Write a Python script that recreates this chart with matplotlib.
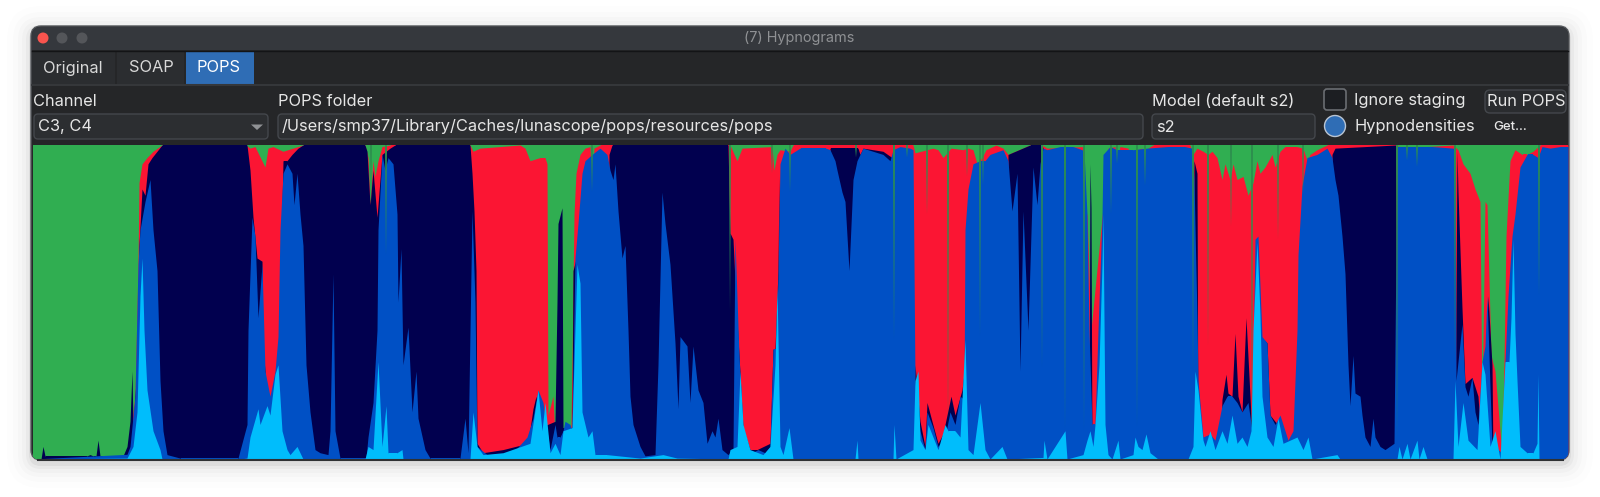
import matplotlib
matplotlib.use("Agg")
import matplotlib.pyplot as plt
from matplotlib.patches import FancyBboxPatch, Rectangle, Circle, Polygon

plt.rcParams['font.family'] = ['Inter', 'DejaVu Sans']

# hypnodensity, cumulative % at the top of each stage
red_x = [0, 5, 10, 94, 100, 102, 105, 106, 109, 114, 120, 129, 213, 217, 222, 232, 235, 240, 250, 260, 270, 297, 299, 302,
         332, 335, 337, 340, 342, 345, 349, 357, 437, 440, 447, 487, 492, 497, 507, 512, 514, 515, 520, 522, 524, 530, 533,
         534, 536, 538, 539, 541, 543, 547, 552, 557, 559, 561, 567, 697, 704, 709, 739, 741, 744, 747, 757, 760, 880, 882,
         894, 900, 905, 910, 918, 930, 935, 940, 944, 949, 953, 963, 970, 975, 997, 1009, 1014, 1051, 1052, 1054, 1058, 1070,
         1072, 1075, 1082, 1084, 1087, 1095, 1100, 1104, 1109, 1113, 1115, 1120, 1157, 1160, 1164, 1170, 1175, 1179, 1184,
         1189, 1192, 1197, 1200, 1204, 1210, 1215, 1220, 1224, 1227, 1232, 1239, 1242, 1247, 1252, 1264, 1270, 1274, 1277,
         1284, 1294, 1364, 1367, 1374, 1377, 1384, 1387, 1390, 1394, 1420, 1425, 1430, 1437, 1442, 1447, 1449, 1452, 1454,
         1458, 1462, 1467, 1469, 1471, 1473, 1477, 1482, 1489, 1494, 1500, 1507, 1535]
red_y = [0, 0, 0, 1, 15, 20, 62, 88, 94, 96, 98, 100, 100, 99, 99.5, 93, 99, 99.5, 98, 99, 100, 100, 99, 100,
         100, 96, 81, 95, 90, 95, 99.5, 100, 100, 98, 99, 100, 99, 95, 96, 96, 94, 14, 20, 7, 6, 9, 11,
         11, 6, 11, 30, 78, 91, 97, 99, 99.5, 85, 99, 100, 100, 95, 99, 99.5, 92, 97, 98.5, 98, 100, 100, 97.5,
         98.5, 99, 98.5, 96, 99, 98.5, 99, 98.5, 94, 96, 98.5, 100, 99, 97, 100, 100, 99, 99.5, 78, 78, 41, 80,
         95, 99, 99.5, 94, 99.5, 99, 93, 98.5, 99, 95, 99, 100, 100, 97, 99, 98, 97, 98, 96,
         89, 94, 89, 94, 89, 90, 84, 88, 95, 91, 93, 97, 93, 98, 99.5, 99.5, 99, 95, 97,
         98.5, 100, 100, 99, 95, 99.5, 93, 99.5, 96, 99.5, 100, 98.5, 94, 91, 86, 82, 14, 82, 81,
         33, 28, 9, 1.4, 31, 71, 95, 98.5, 97, 97, 98, 100, 100]

navy_x = [0, 8, 10, 12, 54, 57, 60, 63, 65, 67, 90, 94, 97, 99, 100, 102, 104, 106, 109, 112, 115, 119, 124, 129, 214, 217,
          220, 224, 229, 230, 232, 234, 247, 249, 250, 254, 259, 265, 270, 332, 334, 337, 340, 344, 349, 357, 362, 437, 439,
          441, 443, 444, 450, 470, 495, 500, 503, 507, 522, 524, 525, 529, 530, 539, 540, 544, 547, 549, 575, 576, 579, 695,
          697, 700, 703, 706, 710, 717, 724, 737, 740, 742, 745, 746, 747, 795, 797, 825, 827, 830, 850, 859, 860, 880, 882,
          887, 892, 894, 899, 905, 910, 918, 922, 929, 932, 934, 974, 975, 997, 1009, 1012, 1014, 1056, 1057, 1058, 1059,
          1160, 1161, 1164, 1165, 1187, 1189, 1193, 1195, 1199, 1202, 1205, 1209, 1213, 1217, 1220, 1230, 1231, 1234, 1237,
          1242, 1250, 1254, 1297, 1299, 1302, 1363, 1364, 1422, 1424, 1425, 1429, 1432, 1439, 1445, 1449, 1454, 1455, 1459,
          1460, 1535]
navy_y = [0, 0, 4, 1, 1, 1.4, 1, 1, 6, 1, 1, 4, 12, 28, 10, 20, 30, 68, 86, 84, 94, 96, 98, 100, 100, 92,
          77, 64, 63, 36, 28, 0, 0, 80, 95, 95, 97, 99, 100, 100, 98, 81, 92, 77, 97, 99, 100, 100, 91,
          79, 60, 5, 2, 3, 5, 16, 20, 10, 12, 50, 75, 80, 10, 10, 60, 65, 60, 0, 0, 97, 100, 100,
          72, 70, 50, 33, 10, 3, 3, 5, 35, 35, 60, 90, 0, 0, 99, 99, 97, 99, 98, 96, 0, 0, 30,
          12, 4, 18, 12, 5, 8, 20, 14, 22, 30, 0, 0, 97, 100, 100, 97, 0, 0, 94, 80, 0,
          0, 95, 91, 0, 0, 19, 27, 21, 20, 40, 20, 15, 45, 20, 0, 0, 38, 37, 14,
          12, 9, 0, 0, 97, 99, 100, 0, 0, 98, 85, 48, 24, 26, 20, 0, 42, 52, 30,
          0, 0]

blue_x = [0, 94, 97, 102, 105, 107, 112, 117, 120, 124, 127, 130, 134, 147, 205, 214, 215, 219, 222, 225, 229, 232, 237, 242,
          245, 247, 250, 254, 259, 261, 264, 267, 270, 273, 277, 282, 287, 295, 297, 300, 302, 307, 333, 335, 340, 344, 345,
          349, 352, 355, 360, 364, 365, 368, 370, 375, 379, 383, 385, 392, 397, 427, 432, 435, 439, 442, 444, 454, 467, 480,
          494, 500, 505, 510, 514, 517, 522, 524, 527, 530, 532, 537, 539, 542, 545, 549, 552, 559, 567, 574, 577, 580, 582,
          585, 589, 592, 595, 597, 600, 607, 612, 622, 625, 629, 632, 637, 642, 645, 647, 654, 657, 660, 665, 670, 674, 679,
          682, 685, 689, 695, 700, 702, 706, 710, 715, 719, 725, 732, 737, 740, 743, 745, 747, 752, 757, 767, 780, 793, 797,
          802, 804, 809, 812, 816, 820, 824, 830, 840, 850, 857, 860, 867, 877, 880, 882, 887, 892, 894, 900, 905, 912, 917,
          922, 927, 931, 932, 935, 940, 947, 952, 957, 970, 975, 979, 984, 987, 990, 995, 1000, 1004, 1007, 1010, 1014, 1027,
          1040, 1049, 1051, 1054, 1056, 1059, 1062, 1065, 1069, 1070, 1077, 1084, 1100, 1114, 1134, 1152, 1159, 1161, 1164,
          1165, 1170, 1177, 1182, 1189, 1194, 1199, 1204, 1209, 1215, 1219, 1222, 1225, 1229, 1234, 1237, 1242, 1247, 1252,
          1255, 1260, 1264, 1265, 1269, 1274, 1284, 1294, 1299, 1302, 1305, 1309, 1312, 1315, 1317, 1320, 1322, 1327, 1329,
          1332, 1337, 1340, 1342, 1347, 1352, 1361, 1364, 1382, 1400, 1420, 1422, 1423, 1429, 1432, 1435, 1439, 1442, 1445,
          1449, 1452, 1454, 1459, 1462, 1465, 1469, 1472, 1475, 1479, 1482, 1487, 1494, 1500, 1505, 1509, 1517, 1527, 1535]
blue_y = [0, 1.5, 4, 20, 62, 73, 82, 89, 73, 60, 25, 9, 1.4, 0.3, 0.3, 11, 41, 77, 71, 45, 62, 28, 20, 28,
          39, 73, 91, 94, 91, 81, 91, 78, 68, 30, 15, 3, 2, 1.4, 9, 59, 9, 0.3, 0.3, 7, 18, 41, 73,
          97, 92, 96, 94, 78, 50, 67, 30, 42, 15, 28, 13, 3, 0.3, 0.3, 13, 2, 79, 50, 4, 1.4, 1, 2,
          7, 13, 22, 18, 9, 3, 11, 7, 7, 9, 12, 11, 9, 64, 75, 91, 95, 97, 99, 97, 92, 89, 94,
          79, 64, 68, 41, 20, 11, 4, 1, 1.4, 30, 85, 75, 62, 37, 16, 39, 36, 18, 36, 22, 18, 5, 9,
          7, 13, 3, 1.4, 3, 70, 33, 9, 3, 2, 3, 2, 4, 35, 35, 59, 94, 99, 97, 99, 99, 99, 98.5,
          95, 92, 85, 82, 60, 89, 95, 99, 98, 97, 95, 98.5, 99.5, 99, 98.5, 25, 9, 3, 15, 10, 4, 7, 15,
          11, 20, 19, 73, 86, 94, 95, 95, 97, 98.5, 95, 79, 91, 28, 79, 41, 93, 81, 94, 99, 98.5, 99.5,
          99.5, 98.5, 98, 78, 41, 11, 11, 41, 77, 97, 99.5, 98.5, 98.5, 99, 99.5, 99.5, 99, 89, 45,
          25, 7, 8, 6, 17, 20, 20, 18, 15, 18, 9, 70, 71, 39, 37, 14, 11, 14, 9,
          6, 9, 41, 65, 87, 96, 97, 99, 96, 89, 84, 71, 59, 30, 17, 33, 21, 20, 14,
          7, 4, 13, 7, 4, 3, 5, 99.5, 99.5, 99.5, 99, 98.5, 25, 43, 23, 20, 26, 15, 11,
          31, 36, 52, 4, 7, 3, 2, 31, 52, 71, 78, 93, 97, 97, 96, 99.5, 99, 99.5, 99.5]

cyan_x = [0, 94, 100, 104, 107, 109, 111, 114, 120, 127, 129, 207, 214, 217, 225, 227, 234, 237, 242, 245, 249, 254, 257, 264,
          270, 332, 335, 340, 345, 349, 353, 355, 364, 369, 370, 437, 440, 444, 450, 470, 497, 505, 509, 512, 517, 522, 527,
          530, 539, 544, 547, 549, 555, 559, 562, 574, 607, 630, 644, 695, 697, 704, 707, 710, 717, 730, 737, 742, 744, 747,
          750, 756, 760, 822, 824, 825, 860, 861, 863, 880, 882, 885, 887, 892, 895, 900, 905, 912, 915, 922, 927, 932, 935,
          940, 947, 952, 957, 969, 974, 1010, 1011, 1014, 1032, 1034, 1050, 1054, 1057, 1060, 1062, 1066, 1069, 1070, 1072,
          1075, 1079, 1085, 1087, 1100, 1102, 1105, 1109, 1113, 1117, 1125, 1155, 1160, 1162, 1165, 1170, 1172, 1177, 1182,
          1189, 1194, 1199, 1204, 1209, 1214, 1218, 1220, 1224, 1227, 1229, 1234, 1240, 1245, 1250, 1257, 1264, 1270, 1275,
          1279, 1304, 1307, 1364, 1366, 1369, 1374, 1377, 1384, 1386, 1390, 1394, 1420, 1422, 1425, 1430, 1435, 1444, 1449,
          1452, 1457, 1462, 1467, 1472, 1476, 1478, 1480, 1482, 1484, 1487, 1494, 1500, 1504, 1505, 1506, 1535]
cyan_y = [0, 0.3, 4, 15, 52, 64, 41, 22, 9, 3, 0, 0, 0.3, 7, 16, 11, 17, 14, 27, 30, 9, 3, 1.4, 4,
          0, 0, 4, 3, 31, 4, 17, 2, 2, 3, 0, 0, 15, 4, 1.4, 2, 5, 22, 9, 18, 2, 5, 1.4,
          9, 10, 62, 56, 15, 7, 9, 1.4, 1.4, 0.3, 1.4, 0.3, 0, 3, 4, 28, 11, 3, 1.4, 4, 30, 55, 4,
          1.4, 10, 0, 0, 6, 0, 0, 11, 0, 3, 25, 28, 6, 3, 11, 7, 3, 11, 9, 9, 7, 38, 3,
          1.4, 18, 3, 0, 4, 0, 0.5, 6, 0, 9, 0, 1.4, 6, 9, 4, 11, 30, 62, 78, 11,
          1.4, 0, 6, 0, 1.4, 7, 4, 3, 8, 2, 0, 0, 4, 28, 22, 6, 4, 9, 3,
          9, 5, 14, 5, 7, 4, 9, 41, 69, 46, 20, 7, 4, 13, 5, 6, 7, 3, 7,
          0, 1.4, 0, 0, 4, 0, 5, 0, 6, 0, 4, 0, 0, 25, 4, 18, 6, 3, 31,
          27, 4, 9, 0, 31, 31, 45, 70, 40, 25, 4, 2, 2, 5, 27, 0, 0]

# thin wake slivers that cut down through the stack
wake_x = [338, 353, 559, 697, 739, 757, 823, 861, 874, 894, 915, 934, 947, 950, 1009, 1032, 1051, 1078, 1084, 1104,
          1112, 1160, 1175, 1198, 1219, 1245, 1270, 1364, 1374, 1384, 1422, 1506]
wake_y = [81, 65, 85, 47, 91, 85, 96, 38, 96, 78, 9, 90, 39, 87, 29, 9, 9, 78, 94, 10,
          87, 28, 36, 74, 8, 70, 84, 4, 95, 93, 31, 52]

GREEN = '#30ae51'
RED = '#fb1533'
NAVY = '#01004f'
BLUE = '#0050c5'
CYAN = '#00bdfc'

WIN_BG = '#252628'
TITLE_BG = '#35383d'
FIELD = '#2c2e31'
EDGE = '#44474c'
TXT = '#e6e6e6'
FS = 11.8

fig = plt.figure(figsize=(16, 4.97), dpi=100, facecolor='white')

# window furniture, in pixels
ui = fig.add_axes([0, 0, 1, 1], zorder=0)
ui.set_xlim(0, 1600)
ui.set_ylim(497, 0)
ui.axis('off')


def box(x0, y0, x1, y1, fc, ec='none', r=4, lw=1, **kw):
    p = FancyBboxPatch((x0, y0), x1 - x0, y1 - y0, boxstyle=f"round,pad=0,rounding_size={r}",
                       fc=fc, ec=ec, lw=lw, **kw)
    ui.add_patch(p)
    return p


# soft shadow
for grow, a in [(24, 0.008), (18, 0.012), (13, 0.016), (9, 0.02), (5, 0.03), (2, 0.05)]:
    box(31 - grow, 26 - grow + 4, 1569 + grow, 460 + grow + 4, 'black', r=10 + grow, alpha=a)

window = box(31, 26, 1569, 460, WIN_BG, ec='#55585c', r=10, lw=1)
box(32, 27, 1568, 50, TITLE_BG, r=8)
ui.add_patch(Rectangle((32, 40), 1536, 10, fc=TITLE_BG, ec='none'))
ui.plot([32, 1568], [50.5, 50.5], color='#131416', lw=1)

ui.add_patch(Circle((43, 38), 5.5, fc='#f9544e', ec='none'))
ui.add_patch(Circle((62, 38), 5.5, fc='#54565a', ec='none'))
ui.add_patch(Circle((82, 38), 5.5, fc='#54565a', ec='none'))
ui.text(799, 38, "(7) Hypnograms", color='#8f9194', fontsize=10.4, ha='center', va='center')

# tabs
ui.add_patch(Rectangle((32, 51), 83, 33, fc='#2b2d30', ec='none'))
ui.add_patch(Rectangle((117, 51), 67, 33, fc='#2b2d30', ec='none'))
ui.add_patch(Rectangle((186, 51), 68, 33, fc='#2f6db5', ec='none'))
ui.text(43, 68, "Original", color='#d8d8d8', fontsize=FS, va='center')
ui.text(128.5, 68, "SOAP", color='#d8d8d8', fontsize=FS, va='center')
ui.text(197, 68, "POPS", color='white', fontsize=FS, va='center')
ui.plot([32, 1568], [85, 85], color='#35373a', lw=1.5)

# control row
ui.text(33.5, 102, "Channel", color=TXT, fontsize=FS, va='center')
box(34, 114, 268, 139, FIELD, ec=EDGE, r=4)
ui.text(38, 127, "C3, C4", color=TXT, fontsize=FS, va='center')
ui.add_patch(Polygon([[251, 124.5], [263, 124.5], [257, 130]], fc='#909295', ec='none'))
ui.text(278.5, 102, "POPS folder", color=TXT, fontsize=FS, va='center')
box(278, 114, 1143, 139, FIELD, ec=EDGE, r=4)
ui.text(282, 127, "/Users/smp37/Library/Caches/lunascope/pops/resources/pops", color=TXT, fontsize=FS, va='center')
ui.text(1152, 102, "Model (default s2)", color=TXT, fontsize=FS, va='center')
box(1152, 114, 1315, 139, FIELD, ec=EDGE, r=4)
ui.text(1156, 127, "s2", color=TXT, fontsize=FS, va='center')
box(1324, 89, 1346, 110, '#1c1e22', ec='#6a6d72', r=3, lw=1.2)
ui.add_patch(Circle((1335, 126), 10.5, fc='#2f6db5', ec='#b9c4d2', lw=1))
ui.text(1354, 101, "Ignore staging", color=TXT, fontsize=FS, va='center')
ui.text(1354, 127, "Hypnodensities", color=TXT, fontsize=FS, va='center')
box(1485, 90, 1566, 113, '#2a2c2f', ec=EDGE, r=5)
ui.text(1487, 102, "Run POPS", color=TXT, fontsize=FS, va='center')
ui.text(1493, 127, "Get...", color=TXT, fontsize=9.5, va='center', fontweight='medium')

# the stacked hypnodensity
ax = fig.add_axes([33 / 1600, (497 - 459) / 497, 1535 / 1600, 314 / 497], zorder=1)
ax.set_xlim(0, 1535)
ax.set_ylim(0, 100)
ax.axis('off')
ax.fill_between([0, 1535], 0, 100, color=GREEN, lw=0)
ax.fill_between(red_x, 0, red_y, color=RED, lw=0)
ax.fill_between(navy_x, 0, navy_y, color=NAVY, lw=0)
ax.fill_between(blue_x, 0, blue_y, color=BLUE, lw=0)
ax.fill_between(cyan_x, 0, cyan_y, color=CYAN, lw=0)
for wx, wy in zip(wake_x, wake_y):
    ax.fill([wx - 1, wx, wx + 1], [100, wy, 100], color='#2d8f4e', lw=0)

# round the chart's lower corners with the window
for art in ax.collections + ax.patches:
    art.set_clip_path(window)

# window edge over the chart
over = fig.add_axes([0, 0, 1, 1], zorder=2)
over.set_xlim(0, 1600)
over.set_ylim(497, 0)
over.axis('off')
over.patch.set_alpha(0)
over.plot([38, 1563], [459.5, 459.5], color='#2f3134', lw=1.5)

fig.savefig('out.png', dpi=100)
